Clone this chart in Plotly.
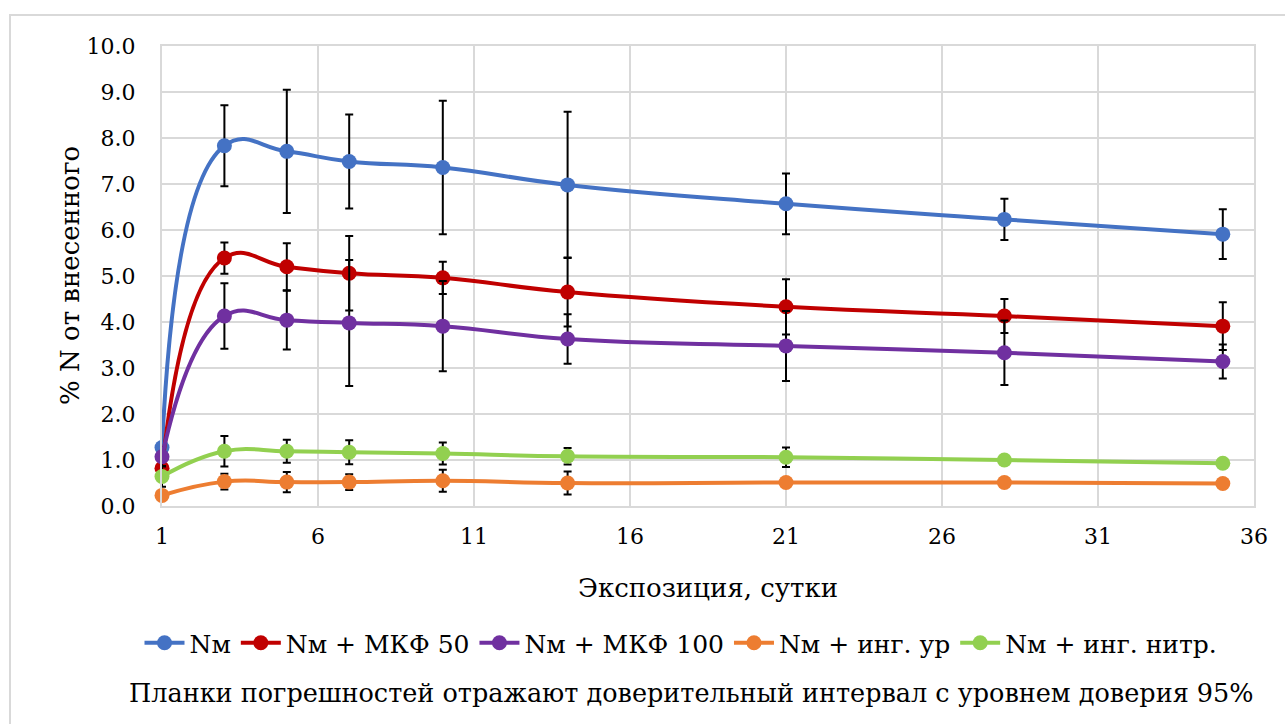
import plotly.graph_objects as go

days = [1, 3, 5, 7, 10, 14, 21, 28, 35]

series_names = ["Nм", "Nм + МКФ 50", "Nм + МКФ 100", "Nм + инг. ур", "Nм + инг. нитр."]
colors = ["#4472C4", "#C00000", "#7030A0", "#ED7D31", "#92D050"]

nm = [1.27, 7.83, 7.71, 7.49, 7.36, 6.98, 6.57, 6.23, 5.91]
nm_err = [0.42, 0.88, 1.34, 1.02, 1.45, 1.59, 0.66, 0.45, 0.54]

mkf50 = [0.82, 5.39, 5.20, 5.06, 4.96, 4.65, 4.33, 4.13, 3.91]
mkf50_err = [0.20, 0.34, 0.51, 0.81, 0.35, 0.75, 0.60, 0.37, 0.52]

mkf100 = [1.07, 4.13, 4.04, 3.98, 3.91, 3.63, 3.48, 3.33, 3.14]
mkf100_err = [0.20, 0.71, 0.64, 1.37, 0.98, 0.54, 0.76, 0.70, 0.37]

ing_ur = [0.23, 0.53, 0.52, 0.52, 0.55, 0.50, 0.51, 0.51, 0.49]
ing_ur_err = [0.10, 0.17, 0.22, 0.17, 0.24, 0.25, 0.05, 0.03, 0.03]

ing_nitr = [0.64, 1.19, 1.19, 1.17, 1.14, 1.08, 1.06, 1.00, 0.93]
ing_nitr_err = [0.22, 0.33, 0.25, 0.26, 0.24, 0.18, 0.21, 0.04, 0.03]

values = [nm, mkf50, mkf100, ing_ur, ing_nitr]
errors = [nm_err, mkf50_err, mkf100_err, ing_ur_err, ing_nitr_err]

x_title = "Экспозиция, сутки"
y_title = "% N от внесенного"
footnote = "Планки погрешностей отражают доверительный интервал с уровнем доверия 95%"

FONT = "DejaVu Serif"

fig = go.Figure()
for name, col, v, e in zip(series_names, colors, values, errors):
    fig.add_trace(go.Scatter(
        x=days, y=v, name=name, mode="lines+markers", cliponaxis=False,
        line=dict(color=col, width=4, shape="spline", smoothing=1.3),
        marker=dict(color=col, size=15),
        error_y=dict(type="data", array=e, visible=True, color="black",
                     thickness=2, width=4),
    ))

# plot area: x 162..1254, y 46..506
L, R, T, B = 162, 31, 46, 218
W, H = 1285 - L - R, 724 - T - B

def px(xp):
    return (xp - L) / W

def py(yp):
    return (724 - B - yp) / H

fig.update_layout(
    width=1285, height=724,
    margin=dict(l=L, r=R, t=T, b=B),
    paper_bgcolor="white", plot_bgcolor="white",
    font=dict(family=FONT, size=22, color="black"),
    showlegend=True,
    legend=dict(orientation="h", x=px(681), xanchor="center", y=py(643), yanchor="middle",
                font=dict(size=25, family=FONT), itemwidth=40, tracegroupgap=0,
                bgcolor="rgba(0,0,0,0)"),
    xaxis=dict(range=[1, 36], tick0=1, dtick=5, showgrid=True, gridcolor="#D9D9D9", gridwidth=2,
               showline=True, linecolor="#D9D9D9", linewidth=2, mirror=True,
               zeroline=False, ticks="", ticklabelstandoff=10,
               tickfont=dict(size=22, family=FONT)),
    yaxis=dict(range=[0, 10], dtick=1, tickformat=".1f", showgrid=True, gridcolor="#D9D9D9", gridwidth=2,
               showline=True, linecolor="#D9D9D9", linewidth=2, mirror=True,
               zeroline=False, ticks="", ticklabelstandoff=20,
               tickfont=dict(size=22, family=FONT)),
    annotations=[
        dict(text=x_title, xref="paper", yref="paper", x=px(708), y=py(588),
             showarrow=False, font=dict(size=26, family=FONT), xanchor="center", yanchor="middle"),
        dict(text=y_title, xref="paper", yref="paper", x=px(70), y=py(276),
             showarrow=False, textangle=-90, font=dict(size=26, family=FONT),
             xanchor="center", yanchor="middle"),
        dict(text=footnote, xref="paper", yref="paper", x=px(691), y=py(693),
             showarrow=False, font=dict(size=25.5, family=FONT), xanchor="center", yanchor="middle"),
    ],
    shapes=[
        dict(type="rect", xref="paper", yref="paper",
             x0=px(10), x1=px(1300), y0=py(740), y1=py(15),
             line=dict(color="#D9D9D9", width=2), fillcolor="rgba(0,0,0,0)", layer="below"),
    ],
)

fig.write_html("out.html")
